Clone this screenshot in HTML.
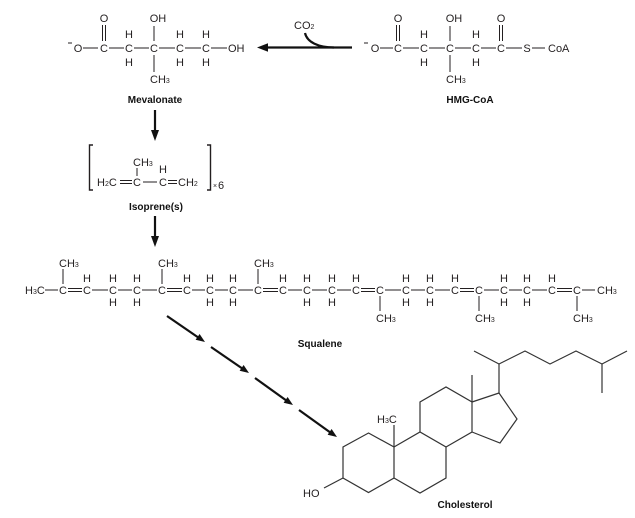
<!DOCTYPE html>
<html>
<head>
<meta charset="utf-8">
<style>
html,body{margin:0;padding:0;background:#fff;}
svg{display:block;}
text{font-family:"Liberation Sans",sans-serif;fill:#231f20;}
.a{font-size:11px;}
.s{font-size:7px;}
.lb{font-size:10px;font-weight:bold;text-anchor:middle;fill:#111;}
.m{text-anchor:middle;}
</style>
</head>
<body>
<svg width="635" height="518" viewBox="0 0 635 518" xmlns="http://www.w3.org/2000/svg">
<g stroke="#231f20" stroke-width="1" fill="none">
<!-- Mevalonate bonds -->
<line x1="68" y1="43" x2="72" y2="43"/>
<line x1="83" y1="48" x2="98" y2="48"/>
<line x1="109" y1="48" x2="124" y2="48"/>
<line x1="134" y1="48" x2="149" y2="48"/>
<line x1="159" y1="48" x2="175" y2="48"/>
<line x1="185" y1="48" x2="201" y2="48"/>
<line x1="211" y1="48" x2="227" y2="48"/>
<line x1="102.5" y1="25" x2="102.5" y2="41"/>
<line x1="105.5" y1="25" x2="105.5" y2="41"/>
<line x1="154" y1="26" x2="154" y2="41"/>
<line x1="154" y1="55" x2="154" y2="72"/>
<!-- HMG-CoA bonds -->
<line x1="364" y1="43" x2="368" y2="43"/>
<line x1="380" y1="48" x2="393" y2="48"/>
<line x1="403" y1="48" x2="419" y2="48"/>
<line x1="429" y1="48" x2="445" y2="48"/>
<line x1="455" y1="48" x2="471" y2="48"/>
<line x1="481" y1="48" x2="496" y2="48"/>
<line x1="506" y1="48" x2="522" y2="48"/>
<line x1="532" y1="48" x2="545" y2="48"/>
<line x1="396.5" y1="25" x2="396.5" y2="41"/>
<line x1="399.5" y1="25" x2="399.5" y2="41"/>
<line x1="499.5" y1="25" x2="499.5" y2="41"/>
<line x1="502.5" y1="25" x2="502.5" y2="41"/>
<line x1="450" y1="26" x2="450" y2="41"/>
<line x1="450" y1="55" x2="450" y2="72"/>
<!-- Isoprene -->
<line x1="120" y1="180.5" x2="132" y2="180.5"/>
<line x1="120" y1="183.5" x2="132" y2="183.5"/>
<line x1="143" y1="182" x2="157" y2="182"/>
<line x1="168" y1="180.5" x2="177" y2="180.5"/>
<line x1="168" y1="183.5" x2="177" y2="183.5"/>
<line x1="137" y1="168" x2="137" y2="176"/>
<path d="M93,145 H89.5 V190 H93" stroke-width="1.4"/>
<path d="M207,145 H210.5 V190 H207" stroke-width="1.4"/>
<!-- Squalene bonds -->
<line x1="45" y1="290" x2="58" y2="290"/>
<line x1="68" y1="288.5" x2="82" y2="288.5"/><line x1="68" y1="291.5" x2="82" y2="291.5"/>
<line x1="92" y1="290" x2="108" y2="290"/>
<line x1="118" y1="290" x2="132" y2="290"/>
<line x1="142" y1="290" x2="157" y2="290"/>
<line x1="167" y1="288.5" x2="182" y2="288.5"/><line x1="167" y1="291.5" x2="182" y2="291.5"/>
<line x1="192" y1="290" x2="205" y2="290"/>
<line x1="215" y1="290" x2="228" y2="290"/>
<line x1="238" y1="290" x2="253" y2="290"/>
<line x1="263" y1="288.5" x2="278" y2="288.5"/><line x1="263" y1="291.5" x2="278" y2="291.5"/>
<line x1="288" y1="290" x2="302" y2="290"/>
<line x1="312" y1="290" x2="327" y2="290"/>
<line x1="337" y1="290" x2="351" y2="290"/>
<line x1="361" y1="288.5" x2="375" y2="288.5"/><line x1="361" y1="291.5" x2="375" y2="291.5"/>
<line x1="385" y1="290" x2="401" y2="290"/>
<line x1="411" y1="290" x2="425" y2="290"/>
<line x1="435" y1="290" x2="450" y2="290"/>
<line x1="460" y1="288.5" x2="474" y2="288.5"/><line x1="460" y1="291.5" x2="474" y2="291.5"/>
<line x1="484" y1="290" x2="499" y2="290"/>
<line x1="509" y1="290" x2="522" y2="290"/>
<line x1="532" y1="290" x2="547" y2="290"/>
<line x1="557" y1="288.5" x2="572" y2="288.5"/><line x1="557" y1="291.5" x2="572" y2="291.5"/>
<line x1="582" y1="290" x2="595" y2="290"/>
<line x1="63" y1="269" x2="63" y2="284"/>
<line x1="162" y1="269" x2="162" y2="284"/>
<line x1="258" y1="269" x2="258" y2="284"/>
<line x1="380" y1="296" x2="380" y2="311"/>
<line x1="479" y1="296" x2="479" y2="311"/>
<line x1="577" y1="296" x2="577" y2="311"/>
</g>

<!-- Arrows -->
<g stroke="#111" stroke-width="2.2" fill="none">
<line x1="264" y1="47.5" x2="352" y2="47.5"/>
<path d="M305,33 C307,42 318,47.5 334,47.5"/>
<line x1="155" y1="110" x2="155" y2="132"/>
<line x1="155" y1="216" x2="155" y2="239"/>
<line x1="167" y1="316" x2="199" y2="338"/>
<line x1="211" y1="347" x2="243" y2="369"/>
<line x1="255" y1="378" x2="287" y2="401"/>
<line x1="299" y1="410" x2="331" y2="433"/>
</g>
<g fill="#111">
<polygon points="257,47.5 268,43.3 268,51.7"/>
<polygon points="155,141 151,130 159,130"/>
<polygon points="155,247 151,236 159,236"/>
<polygon points="205,342 195.6,339.8 199.6,334"/>
<polygon points="249,373 239.6,370.8 243.6,365"/>
<polygon points="293,405 283.6,402.8 287.6,397"/>
<polygon points="337,437 327.6,434.8 331.6,429"/>
</g>

<!-- Cholesterol -->
<g stroke="#333" stroke-width="1.2" fill="none" stroke-linejoin="miter">
<polygon points="368.5,433 394,447 394,478 368.5,492.5 343,478 343,447"/>
<polyline points="394,447 420,432 446,447 446,478 420,493 394,478"/>
<polyline points="420,432 420,402 446,387 472,402 472,432 446,447"/>
<polyline points="472,402 499,393 517,419 500,443 472,432"/>
<line x1="394" y1="447" x2="394" y2="425"/>
<line x1="472" y1="402" x2="472" y2="375"/>
<line x1="343" y1="478" x2="324" y2="488"/>
<line x1="499" y1="393" x2="499" y2="364"/>
<polyline points="474,351 499,364 525,351 550,364 576,351 602,364 627,351"/>
<line x1="602" y1="364" x2="602" y2="393"/>
</g>

<!-- Mevalonate text -->
<g class="a">
<text x="78" y="52" class="m">O</text>
<text x="104" y="52" class="m">C</text>
<text x="129" y="52" class="m">C</text>
<text x="154" y="52" class="m">C</text>
<text x="180" y="52" class="m">C</text>
<text x="206" y="52" class="m">C</text>
<text x="228" y="52">OH</text>
<text x="104" y="22" class="m">O</text>
<text x="149.7" y="22">OH</text>
<text x="129" y="38" class="m">H</text>
<text x="180" y="38" class="m">H</text>
<text x="206" y="38" class="m">H</text>
<text x="129" y="66" class="m">H</text>
<text x="180" y="66" class="m">H</text>
<text x="206" y="66" class="m">H</text>
<text x="150" y="83">CH<tspan class="s">3</tspan></text>
</g>
<text x="155" y="103" class="lb">Mevalonate</text>

<!-- HMG-CoA text -->
<g class="a">
<text x="375" y="52" class="m">O</text>
<text x="398" y="52" class="m">C</text>
<text x="424" y="52" class="m">C</text>
<text x="450" y="52" class="m">C</text>
<text x="476" y="52" class="m">C</text>
<text x="501" y="52" class="m">C</text>
<text x="527" y="52" class="m">S</text>
<text x="548" y="52">CoA</text>
<text x="398" y="22" class="m">O</text>
<text x="501" y="22" class="m">O</text>
<text x="445.7" y="22">OH</text>
<text x="424" y="38" class="m">H</text>
<text x="476" y="38" class="m">H</text>
<text x="424" y="66" class="m">H</text>
<text x="476" y="66" class="m">H</text>
<text x="446" y="83">CH<tspan class="s">3</tspan></text>
<text x="294" y="29">CO<tspan class="s">2</tspan></text>
</g>
<text x="470" y="103" class="lb">HMG-CoA</text>

<!-- Isoprene text -->
<g class="a">
<text x="97" y="186">H<tspan class="s">2</tspan>C</text>
<text x="137" y="186" class="m">C</text>
<text x="163" y="186" class="m">C</text>
<text x="178" y="186">CH<tspan class="s">2</tspan></text>
<text x="133" y="166">CH<tspan class="s">3</tspan></text>
<text x="163" y="173" class="m">H</text>
<text x="213" y="188" class="s">×</text>
<text x="218" y="189">6</text>
</g>
<text x="156" y="210" class="lb">Isoprene(s)</text>

<!-- Squalene text -->
<g class="a">
<text x="25" y="294">H<tspan class="s">3</tspan>C</text>
<text x="63" y="294" class="m">C</text>
<text x="87" y="294" class="m">C</text>
<text x="113" y="294" class="m">C</text>
<text x="137" y="294" class="m">C</text>
<text x="162" y="294" class="m">C</text>
<text x="187" y="294" class="m">C</text>
<text x="210" y="294" class="m">C</text>
<text x="233" y="294" class="m">C</text>
<text x="258" y="294" class="m">C</text>
<text x="283" y="294" class="m">C</text>
<text x="307" y="294" class="m">C</text>
<text x="332" y="294" class="m">C</text>
<text x="356" y="294" class="m">C</text>
<text x="380" y="294" class="m">C</text>
<text x="406" y="294" class="m">C</text>
<text x="430" y="294" class="m">C</text>
<text x="455" y="294" class="m">C</text>
<text x="479" y="294" class="m">C</text>
<text x="504" y="294" class="m">C</text>
<text x="527" y="294" class="m">C</text>
<text x="552" y="294" class="m">C</text>
<text x="577" y="294" class="m">C</text>
<text x="597" y="294">CH<tspan class="s">3</tspan></text>
<text x="87" y="282" class="m">H</text>
<text x="113" y="282" class="m">H</text>
<text x="137" y="282" class="m">H</text>
<text x="187" y="282" class="m">H</text>
<text x="210" y="282" class="m">H</text>
<text x="233" y="282" class="m">H</text>
<text x="283" y="282" class="m">H</text>
<text x="307" y="282" class="m">H</text>
<text x="332" y="282" class="m">H</text>
<text x="356" y="282" class="m">H</text>
<text x="406" y="282" class="m">H</text>
<text x="430" y="282" class="m">H</text>
<text x="455" y="282" class="m">H</text>
<text x="504" y="282" class="m">H</text>
<text x="527" y="282" class="m">H</text>
<text x="552" y="282" class="m">H</text>
<text x="113" y="306" class="m">H</text>
<text x="137" y="306" class="m">H</text>
<text x="210" y="306" class="m">H</text>
<text x="233" y="306" class="m">H</text>
<text x="307" y="306" class="m">H</text>
<text x="332" y="306" class="m">H</text>
<text x="406" y="306" class="m">H</text>
<text x="430" y="306" class="m">H</text>
<text x="504" y="306" class="m">H</text>
<text x="527" y="306" class="m">H</text>
<text x="59" y="267">CH<tspan class="s">3</tspan></text>
<text x="158" y="267">CH<tspan class="s">3</tspan></text>
<text x="254" y="267">CH<tspan class="s">3</tspan></text>
<text x="376" y="322">CH<tspan class="s">3</tspan></text>
<text x="475" y="322">CH<tspan class="s">3</tspan></text>
<text x="573" y="322">CH<tspan class="s">3</tspan></text>
</g>
<text x="320" y="347" class="lb">Squalene</text>

<!-- Cholesterol text -->
<g class="a">
<text x="377" y="423">H<tspan class="s">3</tspan>C</text>
<text x="303" y="497">HO</text>
</g>
<text x="465" y="508" class="lb">Cholesterol</text>
</svg>
</body>
</html>
